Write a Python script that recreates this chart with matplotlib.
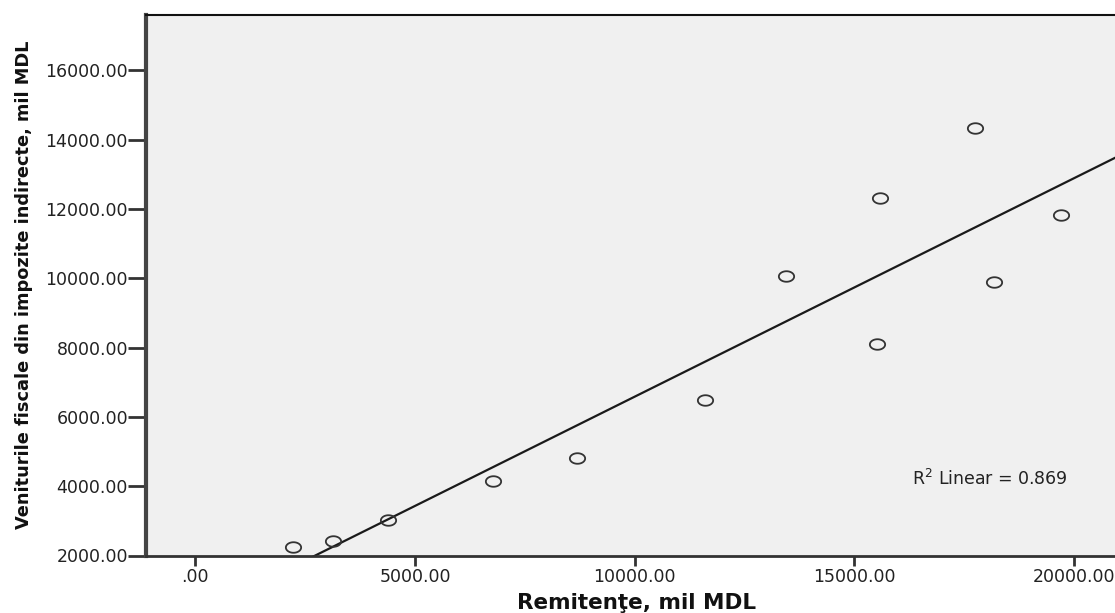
import numpy as np
import matplotlib
matplotlib.use('Agg')
import matplotlib.pyplot as plt
from matplotlib.path import Path
from matplotlib.ticker import FuncFormatter

# Remitente (x) vs venituri fiscale din impozite indirecte (y), mil MDL
remitente = [2217, 3127, 4392, 6782, 8680, 11593, 13444, 15514, 15582, 17744, 18183, 19702]
venituri = [2237, 2424, 3033, 4159, 4814, 6488, 10058, 8104, 12317, 14338, 9893, 11835]
x_ticks = [0, 5000, 10000, 15000, 20000]
y_ticks = [2000, 4000, 6000, 8000, 10000, 12000, 14000, 16000]
r2_text = 'R$^2$ Linear = 0.869'

x = np.array(remitente, dtype=float)
y = np.array(venituri, dtype=float)
slope, intercept = np.polyfit(x, y, 1)

# elliptical open marker (the original is stretched horizontally)
t = np.linspace(0, 2 * np.pi, 60)
ell = Path(np.column_stack([1.45 * np.cos(t), np.sin(t)]), closed=True)

fig = plt.figure(figsize=(11.15, 6.13), dpi=100)
ax = fig.add_axes([146 / 1115, 57.5 / 613, 1 - 146 / 1115, 540.5 / 613])
ax.set_facecolor('#f0f0f0')

ax.set_xlim(-1122, 20931)
ax.set_ylim(2000, 17599)

xx = np.array(ax.get_xlim())
ax.plot(xx, slope * xx + intercept, color='#1a1a1a', lw=1.6, zorder=2)
ax.plot(x, y, linestyle='none', marker=ell, markersize=11, markerfacecolor='none',
        markeredgecolor='#333333', markeredgewidth=1.3, zorder=3)

ax.text(0.790, 0.141, r2_text, transform=ax.transAxes, fontsize=12.5,
        family='DejaVu Sans', color='#222222', va='center', ha='left')

fmt = FuncFormatter(lambda v, p: ('%.2f' % v).lstrip('0') if v == 0 else '%.2f' % v)
ax.set_xticks(x_ticks)
ax.set_yticks(y_ticks)
ax.xaxis.set_major_formatter(fmt)
ax.yaxis.set_major_formatter(fmt)
ax.tick_params(axis='x', length=7, width=2, color='#333333', labelsize=12.5, pad=2)
ax.tick_params(axis='y', length=13, width=2, color='#333333', labelsize=12.5, pad=0)
for lab in ax.get_xticklabels() + ax.get_yticklabels():
    lab.set_family('DejaVu Sans')
    lab.set_color('#222222')

ax.spines['right'].set_visible(False)
ax.spines['left'].set_linewidth(3)
ax.spines['left'].set_color('#444444')
ax.spines['bottom'].set_linewidth(2)
ax.spines['bottom'].set_color('#333333')
ax.spines['top'].set_linewidth(1.5)
ax.spines['top'].set_color('#111111')

fig.text(637 / 1115, 1 - 603 / 613, 'Remitenţe, mil MDL', ha='center', va='center',
         fontsize=15.5, fontweight='bold', family='DejaVu Sans', color='#111111')
fig.text(24 / 1115, 1 - 285 / 613, 'Veniturile fiscale din impozite indirecte, mil MDL',
         rotation=90, ha='center', va='center', fontsize=12.8, fontweight='bold',
         family='DejaVu Sans', color='#111111')

fig.savefig('out.png', dpi=100)
